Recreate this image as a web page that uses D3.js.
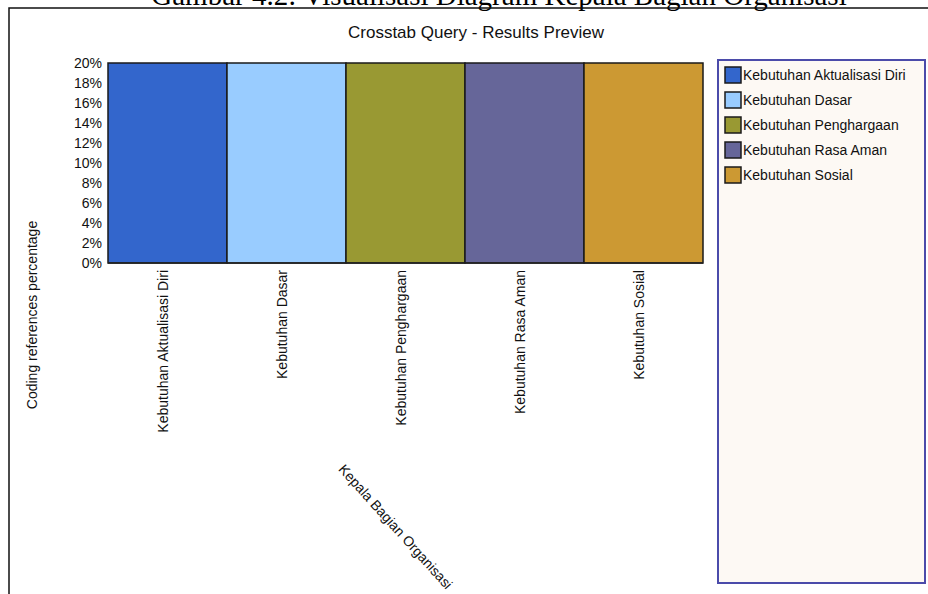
<!DOCTYPE html>
<html>
<head>
<meta charset="utf-8">
<script src="https://cdn.jsdelivr.net/npm/d3@7"></script>
<style>
  body { margin: 0; background: #fff; }
  svg { display: block; font-family: "Liberation Sans", Arial, sans-serif; }
</style>
</head>
<body>
<svg width="928" height="594"></svg>
<script>
// data
var categories = ["Kebutuhan Aktualisasi Diri", "Kebutuhan Dasar", "Kebutuhan Penghargaan", "Kebutuhan Rasa Aman", "Kebutuhan Sosial"];
var values = [20, 20, 20, 20, 20];
var colors = ["#3366CC", "#99CCFF", "#999933", "#666699", "#CC9933"];
var yTicks = [0, 2, 4, 6, 8, 10, 12, 14, 16, 18, 20];

var svg = d3.select("svg"),
    margin = { top: 63, left: 108 },
    width = 595,
    height = 200,
    g = svg.append("g").attr("transform", "translate(" + margin.left + "," + margin.top + ")");

// caption of the figure, cut off at the top of the page as in the scan
svg.append("text")
    .attr("x", 499)
    .attr("y", 5)
    .attr("text-anchor", "middle")
    .attr("font-family", "'Liberation Serif', 'Times New Roman', serif")
    .attr("font-size", 29)
    .attr("fill", "#000")
    .text("Gambar 4.2: Visualisasi Diagram Kepala Bagian Organisasi");

// frame round the chart
svg.append("rect")
    .attr("x", 9).attr("y", 8)
    .attr("width", 960).attr("height", 620)
    .attr("fill", "none")
    .attr("stroke", "#111")
    .attr("stroke-width", 1.5);

svg.append("text")
    .attr("x", 476)
    .attr("y", 38)
    .attr("text-anchor", "middle")
    .attr("font-size", 17)
    .attr("fill", "#111")
    .text("Crosstab Query - Results Preview");

var x = d3.scaleBand()
    .domain(categories)
    .range([0, width])
    .padding(0);

var y = d3.scaleLinear()
    .domain([0, 20])
    .range([height, 0]);

// y axis
var yAxis = g.append("g")
    .call(d3.axisLeft(y).tickValues(yTicks).tickSize(0).tickPadding(6).tickFormat(function (d) { return d + "%"; }));
yAxis.select(".domain").remove();
yAxis.selectAll("text").attr("font-size", 14).attr("fill", "#111").attr("font-family", "'Liberation Sans', Arial, sans-serif");

// bars
g.selectAll(".bar")
    .data(values)
    .enter().append("rect")
    .attr("class", "bar")
    .attr("x", function (d, i) { return x(categories[i]); })
    .attr("y", function (d) { return y(d); })
    .attr("width", x.bandwidth())
    .attr("height", function (d) { return height - y(d); })
    .attr("fill", function (d, i) { return colors[i]; })
    .attr("stroke", "#1a1a1a")
    .attr("stroke-width", 1.5);

// baseline
g.append("line")
    .attr("x1", 0).attr("x2", width)
    .attr("y1", height).attr("y2", height)
    .attr("stroke", "#222").attr("stroke-width", 1.5);

// x axis labels, vertical
var xAxis = g.append("g")
    .attr("transform", "translate(0," + height + ")")
    .call(d3.axisBottom(x).tickSize(0).tickPadding(0));
xAxis.select(".domain").remove();
xAxis.selectAll("text")
    .attr("font-size", 14)
    .attr("fill", "#111")
    .attr("font-family", "'Liberation Sans', Arial, sans-serif")
    .attr("text-anchor", "end")
    .attr("transform", "rotate(-90)")
    .attr("x", -7)
    .attr("y", -4)
    .attr("dy", "0.35em");

// axis titles
svg.append("text")
    .attr("transform", "translate(37,315) rotate(-90)")
    .attr("text-anchor", "middle")
    .attr("font-size", 14)
    .attr("fill", "#111")
    .text("Coding references percentage");

svg.append("text")
    .attr("transform", "translate(392,530) rotate(48)")
    .attr("text-anchor", "middle")
    .attr("font-size", 14)
    .attr("fill", "#111")
    .text("Kepala Bagian Organisasi");

// legend
var legend = svg.append("g");
legend.append("rect")
    .attr("x", 718).attr("y", 60)
    .attr("width", 207).attr("height", 523)
    .attr("fill", "#FDF9F4")
    .attr("stroke", "#4B4BAA")
    .attr("stroke-width", 2);

var item = legend.selectAll(".item")
    .data(categories)
    .enter().append("g")
    .attr("transform", function (d, i) { return "translate(725," + (67 + i * 25) + ")"; });

item.append("rect")
    .attr("width", 16).attr("height", 16)
    .attr("fill", function (d, i) { return colors[i]; })
    .attr("stroke", "#1a1a1a")
    .attr("stroke-width", 1.5);

item.append("text")
    .attr("x", 18)
    .attr("y", 8)
    .attr("dy", "0.35em")
    .attr("font-size", 14)
    .attr("fill", "#111")
    .text(function (d) { return d; });
</script>
</body>
</html>
